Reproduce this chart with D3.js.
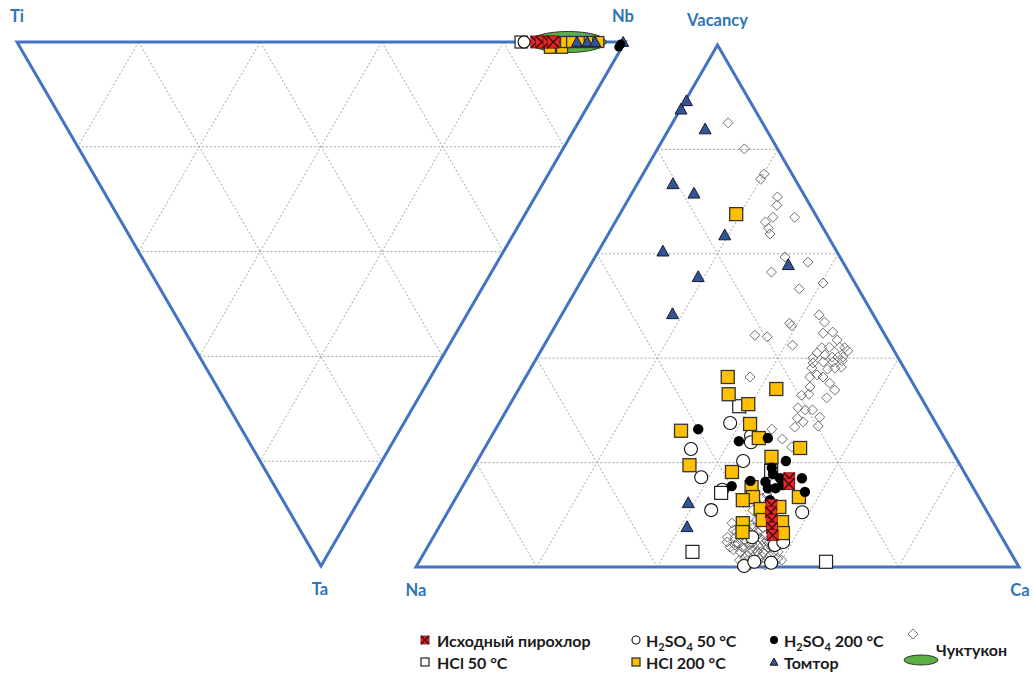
<!DOCTYPE html>
<html>
<head>
<meta charset="utf-8">
<title>Ternary diagrams - pyrochlore</title>
<script src="https://cdn.jsdelivr.net/npm/d3@7"></script>
<style>
  body { margin: 0; background: #fff; }
  text { font-family: Lato, "Liberation Sans", sans-serif; font-weight: bold; }
</style>
</head>
<body>
<svg width="1033" height="673"></svg>
<script>
// ---- data: right diagram, [Ca %, Vacancy %] (Na = rest) ----
var initialRight = [[53.4,17.0],[53.9,15.9],[53.0,11.9],[53.6,10.5],[54.5,9.0],[55.3,7.5],[56.1,6.1]];
var h2so4_50Right = [[38.3,27.6],[43.0,25.1],[43.6,23.9],[34.3,22.6],[44.1,20.3],[38.7,17.2],[43.4,14.8],
  [43.5,10.9],[58.8,10.5],[52.9,5.7],[57.4,4.2],[58.5,4.8],[54.3,0.2],[55.6,1.0],[58.5,0.8]];
var h2so4_200Right = [[33.6,26.4],[41.5,24.1],[46.0,24.7],[51.2,20.3],[49.5,19.0],[50.3,17.8],[47.2,16.5],
  [44.6,15.5],[50.8,15.1],[52.1,15.1],[53.0,15.7],[55.5,17.0],[57.3,14.4],[52.3,12.8],[51.9,17.0],[49.8,16.3]];
var hcl50Right = [[38.2,30.8],[43.5,14.2],[44.4,2.9],[67.5,1.0],[49.7,18.4]];
var hcl200Right = [[19.3,67.6],[33.5,36.4],[35.3,33.1],[39.5,31.2],[42.7,34.1],[30.9,26.1],[41.7,27.4],
  [44.5,24.7],[35.6,19.5],[52.3,22.8],[48.4,21.1],[43.3,18.2],[48.0,15.3],[49.2,13.4],[47.8,12.8],
  [56.8,13.4],[51.6,11.1],[54.5,11.5],[53.0,9.0],[56.4,8.6],[50.0,8.4],[50.8,6.7],[57.6,6.5]];
var tomtorRight = [[0.2,89.3],[0.1,87.7],[6.0,83.9],[5.9,73.4],[10.3,71.6],[19.4,63.6],[10.7,60.5],
  [19.0,55.6],[32.8,57.9],[18.3,48.5],[39.0,12.3],[41.1,7.7]];
var chuktukonRight = [
  [9.2,85.1],[14.4,80.1],[20.1,75.3],[20.0,74.3],[24.5,70.9],[25.2,69.3],[25.7,67.0],[29.3,67.0],
  [24.9,66.1],[26.0,64.9],[26.8,63.8],[31.5,59.4],[35.8,58.4],[30.7,56.5],[36.9,53.3],[40.3,54.4],
  [38.6,46.7],[39.2,46.2],[42.7,48.3],[44.3,46.9],[34.0,44.4],[36.2,44.1],[41.2,42.5],[45.1,44.8],
  [46.6,45.0],[48.1,43.5],[46.3,42.0],[47.5,42.1],[49.2,42.1],[50.1,42.0],[50.9,41.4],[46.0,41.0],
  [45.8,40.0],[47.5,40.6],[48.9,40.2],[49.9,40.2],[50.7,40.2],[46.3,39.1],[46.6,38.1],[47.9,39.3],
  [49.5,39.3],[50.9,39.5],[50.4,38.1],[49.3,37.9],[51.4,38.3],[48.1,36.8],[49.3,36.4],[47.1,36.4],
  [51.0,35.2],[52.5,33.9],[48.1,34.5],[51.9,32.4],[37.2,36.4],[47.5,32.9],[48.6,33.1],[48.1,30.5],
  [49.5,30.1],[50.7,30.1],[49.0,28.5],[50.3,27.8],[53.2,27.0],[49.4,26.8],[45.8,26.4],[48.5,24.5],
  [50.8,23.0],[52.6,28.7],
  [49.2,4.8],[50.2,3.8],[51.0,3.3],[48.8,5.7],[50.1,5.6],[51.1,4.6],[52.3,2.9],[52.7,3.6],[53.8,2.3],
  [53.8,3.3],[54.9,1.9],[55.1,2.9],[56.1,1.7],[56.2,2.7],[57.5,1.3],[54.6,4.2],[54.8,5.2],[53.4,5.6],
  [51.1,6.1],[51.5,7.1],[51.7,8.0],[52.0,9.0],[52.0,10.0],[50.4,10.9],[50.4,12.3],[50.8,13.2],
  [51.3,13.8],[51.3,14.8],[51.2,16.1],[49.1,7.1],[48.2,8.4],[56.3,4.8],[57.9,2.7],[59.1,1.7],
  [59.1,0.8],[56.5,3.8],[54.3,1.3],[53.0,1.3],[49.8,6.7],[53.8,7.5],[54.8,6.1],[53.4,4.6],[51.9,5.2],
  [52.2,3.8],[53.1,4.2],[54.4,3.6],[55.2,3.6],[56.3,3.3],[57.6,2.1],[56.0,1.1],[57.0,0.8],[53.7,1.7],
  [50.8,4.2],[50.9,5.6],[52.3,6.1],[53.3,6.7],[52.1,7.5],[50.6,7.5],[54.2,5.6],[55.7,5.0],[57.1,3.8],
  [58.6,2.9],[60.0,1.3],[55.3,0.4],[57.7,0.4]
];

// ---- data: left diagram, [Nb %, Ta %] (Ti = rest) ----
var initialLeft = [[85.5,0],[86.3,0],[87.5,0],[88.2,0]];
var h2so4_50Left = [[83.4,0]];
var h2so4_200Left = [[98.5,0.95],[99.1,0.4]];
var hcl50Left = [[82.9,0]];
var hcl200Left = [[87.1,1.1],[89.1,1.1],[90.3,0],[91.3,0],[92.9,0],[94.2,0],[95.6,0]];
var tomtorLeft = [[92.1,0],[93.8,0],[95.1,0],[99.7,0]];
var chuktukonLeftRange = [84.4, 96.9];   // Nb % span of the Chuktukon field

var gridSteps = [20, 40, 60, 80];
var rightLabels = ["Na", "Ca", "Vacancy"];
var leftLabels = ["Ti", "Nb", "Ta"];

var blue = "#4472C4";
var labelBlue = "#2E75B6";

var svg = d3.select("svg");

// right triangle: x from (ca + vac/2), y from vac
var rx = d3.scaleLinear().domain([0, 100]).range([416, 1019]);
var ry = d3.scaleLinear().domain([0, 100]).range([567, 45]);
function posR(d) { return [rx(d[0] + d[1] / 2), ry(d[1])]; }

// left triangle (upside down): x from (nb + ta/2), y from ta
var lx = d3.scaleLinear().domain([0, 100]).range([17, 625]);
var ly = d3.scaleLinear().domain([0, 100]).range([42, 566]);
function posL(d) { return [lx(d[0] + d[1] / 2), ly(d[1])]; }

var line = d3.line();

function drawFrame(g, pos) {
  // grid lines parallel to each side
  gridSteps.forEach(function(k) {
    var segs = [
      [[0, k], [100 - k, k]],
      [[k, 0], [k, 100 - k]],
      [[100 - k, 0], [0, 100 - k]]
    ];
    segs.forEach(function(s) {
      g.append("path")
        .attr("d", line(s.map(pos)))
        .attr("stroke", "#9a9a9a")
        .attr("stroke-width", 0.9)
        .attr("stroke-dasharray", "2,2")
        .attr("fill", "none");
    });
  });
  g.append("path")
    .attr("d", line([[0, 0], [100, 0], [0, 100]].map(pos)) + "Z")
    .attr("fill", "none")
    .attr("stroke", blue)
    .attr("stroke-width", 3)
    .attr("stroke-linejoin", "miter");
}

var gLeft = svg.append("g");
var gRight = svg.append("g");
drawFrame(gLeft, posL);
drawFrame(gRight, posR);

// ---- marker painters ----
function diamond(g, p) {
  g.append("path")
    .attr("d", "M" + p[0] + "," + (p[1] - 5) + "l5,5l-5,5l-5,-5z")
    .attr("fill", "none").attr("stroke", "#707070").attr("stroke-width", 1);
}
function openCircle(g, p, r) {
  g.append("circle").attr("cx", p[0]).attr("cy", p[1]).attr("r", r || 6.5)
    .attr("fill", "#fff").attr("stroke", "#111").attr("stroke-width", 1.1);
}
function blackCircle(g, p, r) {
  g.append("circle").attr("cx", p[0]).attr("cy", p[1]).attr("r", r || 5.2)
    .attr("fill", "#000");
}
function openSquare(g, p, s) {
  s = s || 13;
  g.append("rect").attr("x", p[0] - s / 2).attr("y", p[1] - s / 2).attr("width", s).attr("height", s)
    .attr("fill", "#fff").attr("stroke", "#222").attr("stroke-width", 1.2);
}
function yellowSquare(g, p, s) {
  s = s || 13;
  g.append("rect").attr("x", p[0] - s / 2).attr("y", p[1] - s / 2).attr("width", s).attr("height", s)
    .attr("fill", "#FFC000").attr("stroke", "#333").attr("stroke-width", 1.3);
}
function triangle(g, p, s) {
  s = s || 6;
  g.append("path")
    .attr("d", "M" + p[0] + "," + (p[1] - s) + "L" + (p[0] + s) + "," + (p[1] + s * 0.8) +
      "L" + (p[0] - s) + "," + (p[1] + s * 0.8) + "Z")
    .attr("fill", "#2F5597").attr("stroke", "#1a1a2e").attr("stroke-width", 1);
}
function redCross(g, p, s) {
  s = s || 12;
  var x0 = p[0] - s / 2, y0 = p[1] - s / 2;
  g.append("rect").attr("x", x0).attr("y", y0).attr("width", s).attr("height", s)
    .attr("fill", "#E5262A").attr("stroke", "#7a1010").attr("stroke-width", 0.8);
  g.append("path")
    .attr("d", "M" + x0 + "," + y0 + "L" + (x0 + s) + "," + (y0 + s) +
      "M" + (x0 + s) + "," + y0 + "L" + x0 + "," + (y0 + s))
    .attr("stroke", "#3a0a0a").attr("stroke-width", 1.4);
}

// ---- left diagram points ----
var cx0 = lx(chuktukonLeftRange[0]), cx1 = lx(chuktukonLeftRange[1]);
gLeft.append("ellipse")
  .attr("cx", (cx0 + cx1) / 2).attr("cy", ly(0))
  .attr("rx", (cx1 - cx0) / 2).attr("ry", 10.5)
  .attr("fill", "#5DB043").attr("stroke", "#2a3a2a").attr("stroke-width", 1);
hcl50Left.forEach(function(d) { openSquare(gLeft, posL(d), 12); });
h2so4_50Left.forEach(function(d) { openCircle(gLeft, posL(d), 6); });
hcl200Left.forEach(function(d) { yellowSquare(gLeft, posL(d), 11); });
initialLeft.forEach(function(d) { redCross(gLeft, posL(d), 12); });
tomtorLeft.forEach(function(d) { triangle(gLeft, posL(d), 5.5); });
h2so4_200Left.forEach(function(d) { blackCircle(gLeft, posL(d), 4.5); });

// ---- right diagram points ----
chuktukonRight.forEach(function(d) { diamond(gRight, posR(d)); });
h2so4_50Right.forEach(function(d) { openCircle(gRight, posR(d)); });
hcl50Right.forEach(function(d) { openSquare(gRight, posR(d)); });
hcl200Right.forEach(function(d) { yellowSquare(gRight, posR(d)); });
h2so4_200Right.forEach(function(d) { blackCircle(gRight, posR(d)); });
tomtorRight.forEach(function(d) { triangle(gRight, posR(d)); });
initialRight.forEach(function(d) { redCross(gRight, posR(d), 11); });

// ---- vertex labels ----
function vLabel(text, p, dx, dy) {
  svg.append("text").attr("x", p[0] + dx).attr("y", p[1] + dy)
    .attr("text-anchor", "middle").attr("font-size", 16.5)
    .attr("fill", labelBlue).text(text);
}
vLabel(leftLabels[0], posL([0, 0]), 0, -20);
vLabel(leftLabels[1], posL([100, 0]), -2, -20);
vLabel(leftLabels[2], posL([0, 100]), -1, 29);
vLabel(rightLabels[0], posR([0, 0]), 0, 29);
vLabel(rightLabels[1], posR([100, 0]), 1, 29);
vLabel(rightLabels[2], posR([0, 100]), 0, -19);

// ---- legend ----
var legend = svg.append("g").attr("font-size", 16).attr("fill", "#1a1a1a");
function legText(x, y, parts) {
  var t = legend.append("text").attr("x", x).attr("y", y).attr("fill", "#1a1a1a");
  parts.forEach(function(pt) {
    var ts = t.append("tspan").text(pt[0]);
    if (pt[1]) ts.attr("font-size", 11).attr("dy", 4);
    else if (pt[2]) ts.attr("dy", -4);
  });
}
var row1 = 641, row2 = 663;
redCross(legend, [425, row1 - 1], 8);
legText(437, row1 + 6, [["Исходный пирохлор"]]);
openCircle(legend, [636, row1 - 1], 4);
legText(646, row1 + 6, [["H"], ["2", true], ["SO", false, true], ["4", true], [" 50 °C", false, true]]);
blackCircle(legend, [774, row1 - 1], 4);
legText(784, row1 + 6, [["H"], ["2", true], ["SO", false, true], ["4", true], [" 200 °C", false, true]]);
openSquare(legend, [425, row2 - 1], 8);
legText(437, row2 + 6, [["HCl 50 °C"]]);
yellowSquare(legend, [636, row2 - 1], 8);
legText(646, row2 + 6, [["HCl 200 °C"]]);
triangle(legend, [774, row2 - 1], 4);
legText(784, row2 + 6, [["Томтор"]]);
diamond(legend, [913, 634]);
legend.append("ellipse").attr("cx", 921).attr("cy", 660).attr("rx", 17).attr("ry", 5)
  .attr("fill", "#5DB043").attr("stroke", "#2a3a2a").attr("stroke-width", 1);
legText(936, 656, [["Чуктукон"]]);
</script>
</body>
</html>
